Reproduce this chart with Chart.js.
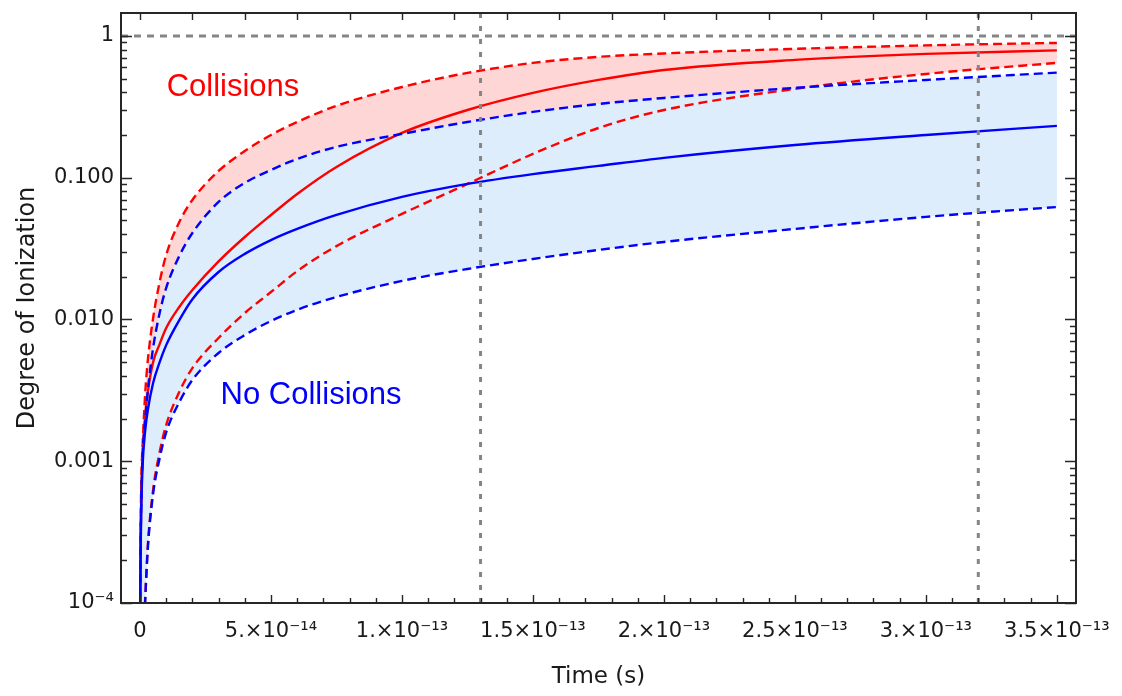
<!DOCTYPE html>
<html>
<head>
<meta charset="utf-8">
<script src="https://cdn.jsdelivr.net/npm/chart.js@4/dist/chart.umd.min.js"></script>
<style>
  html, body { margin: 0; padding: 0; background: #ffffff; }
  #wrap { width: 1122px; height: 696px; }
</style>
</head>
<body>
<div id="wrap"><canvas id="chart" width="1122" height="696"></canvas></div>
<script>
// Time samples (s)
const timeS = [5e-17, 1e-16, 3e-16, 5e-16, 1e-15, 2e-15, 3e-15, 5e-15, 7.5e-15, 1e-14, 1.5e-14, 2e-14,
               3e-14, 4e-14, 5e-14, 6e-14, 7.5e-14, 1e-13, 1.25e-13, 1.5e-13, 1.75e-13, 2e-13,
               2.5e-13, 3e-13, 3.5e-13];

// Degree of ionization with collisions: central estimate and upper / lower bounds
const collisionsMid  = [7.6e-5, 1.23e-4, 3.27e-4, 5.77e-4, 0.0011, 0.00211, 0.00308, 0.0050, 0.0067, 0.0087, 0.01224, 0.01612,
                        0.02566, 0.03815, 0.0545, 0.0767, 0.119, 0.2067, 0.300, 0.396, 0.489, 0.575,
                        0.677, 0.746, 0.790];
const collisionsHigh = [8.2e-5, 1.45e-4, 4.17e-4, 7.4e-4, 0.0013, 0.00303, 0.00517, 0.0102, 0.0184, 0.0285, 0.0487, 0.0696,
                        0.1115, 0.154, 0.200, 0.247, 0.321, 0.436, 0.548, 0.645, 0.711, 0.752,
                        0.810, 0.857, 0.892];
const collisionsLow  = [2e-6, 4e-6, 1e-5, 1.8e-5, 4e-5, 1.08e-4, 2.56e-4, 6.25e-4, 0.00116, 0.0018, 0.00308, 0.00454,
                        0.0074, 0.0111, 0.0156, 0.0219, 0.0329, 0.0555, 0.0903, 0.147, 0.224, 0.300,
                        0.423, 0.539, 0.645];

// Degree of ionization without collisions
const noCollMid  = [6.5e-5, 1.14e-4, 2.77e-4, 4.67e-4, 9.4e-4, 0.00166, 0.0023, 0.00356, 0.0050, 0.00659, 0.0099, 0.0139,
                    0.0216, 0.029, 0.0363, 0.0435, 0.0546, 0.0731, 0.0903, 0.106, 0.121, 0.138,
                    0.170, 0.200, 0.232];
const noCollHigh = [7e-5, 1.23e-4, 3.27e-4, 5.31e-4, 0.0011, 0.00195, 0.00318, 0.00628, 0.0111, 0.0167, 0.028, 0.0407,
                    0.0674, 0.0918, 0.1133, 0.1355, 0.1647, 0.2034, 0.247, 0.291, 0.331, 0.365,
                    0.4296, 0.489, 0.551];
const noCollLow  = [2e-6, 4e-6, 1e-5, 1.7e-5, 3.5e-5, 1.05e-4, 2.44e-4, 5.86e-4, 0.00105, 0.0016, 0.00261, 0.00374,
                    0.0058, 0.00776, 0.00975, 0.0117, 0.0144, 0.0187, 0.0227, 0.0267, 0.0309, 0.0352,
                    0.0435, 0.0529, 0.0621];

// Reference markers
const refTimes = [1.3e-13, 3.2e-13];
const refLevel = 1;

// Axis ticks
const xTickValues = [0, 5e-14, 1e-13, 1.5e-13, 2e-13, 2.5e-13, 3e-13, 3.5e-13];
const xTickLabels = ['0', '5.\u00d710\u207b\u00b9\u2074', '1.\u00d710\u207b\u00b9\u00b3', '1.5\u00d710\u207b\u00b9\u00b3',
                     '2.\u00d710\u207b\u00b9\u00b3', '2.5\u00d710\u207b\u00b9\u00b3', '3.\u00d710\u207b\u00b9\u00b3',
                     '3.5\u00d710\u207b\u00b9\u00b3'];
const yTickValues = [1e-4, 1e-3, 1e-2, 1e-1, 1];
const yTickLabels = ['10\u207b\u2074', '0.001', '0.010', '0.100', '1'];

const X_MIN = -7.25e-15, X_MAX = 3.573e-13;
const Y_MIN = 1e-4, Y_MAX = 1.45;

const RED = '#ff0000', BLUE = '#0000ff', GRAY = '#858585';
const PINK_FILL = '#ffd6d6', BLUE_FILL = '#ddedfc';
const AXIS_FONT = 'DejaVu Sans';

const pts = arr => timeS.map((t, i) => ({ x: t, y: arr[i] }));

function curve(label, arr, color, dashed, fill, bg) {
  return {
    label, data: pts(arr), borderColor: color, borderWidth: 2.4,
    borderDash: dashed ? [9, 5] : [], pointRadius: 0, cubicInterpolationMode: 'monotone',
    fill: fill || false, backgroundColor: bg || 'transparent'
  };
}
function refLine(label, data, dash) {
  return { label, data, borderColor: GRAY, borderWidth: 3, borderDash: dash, pointRadius: 0, fill: false, tension: 0 };
}

// Earlier entries are drawn on top
const datasets = [
  refLine('level', [{ x: X_MIN, y: refLevel }, { x: X_MAX, y: refLevel }], [7, 6]),
  refLine('t1', [{ x: refTimes[0], y: Y_MIN }, { x: refTimes[0], y: Y_MAX }], [5, 8]),
  refLine('t2', [{ x: refTimes[1], y: Y_MIN }, { x: refTimes[1], y: Y_MAX }], [5, 8]),
  curve('No Collisions (upper)', noCollHigh, BLUE, true, '+1', BLUE_FILL),
  curve('No Collisions (lower)', noCollLow, BLUE, true),
  curve('No Collisions', noCollMid, BLUE, false),
  curve('Collisions (upper)', collisionsHigh, RED, true, '+1', PINK_FILL),
  curve('Collisions (lower)', collisionsLow, RED, true),
  curve('Collisions', collisionsMid, RED, false)
];

// Frame with inward tick marks and the in-plot labels
const frameAndLabels = {
  id: 'frameAndLabels',
  afterDatasetsDraw(chart) {
    const { ctx, chartArea: a, scales: { x, y } } = chart;
    ctx.save();
    ctx.strokeStyle = '#262626';
    ctx.lineWidth = 1.4;
    ctx.beginPath();
    for (let k = 0; k <= 35; k++) {
      const px = Math.round(x.getPixelForValue(k * 1e-14)) + 0.5;
      const len = k % 5 === 0 ? 8 : 5;
      ctx.moveTo(px, a.bottom); ctx.lineTo(px, a.bottom - len);
    }
    for (let k = 0; k <= 17; k++) {
      const px = Math.round(x.getPixelForValue(k * 2e-14)) + 0.5;
      ctx.moveTo(px, a.top); ctx.lineTo(px, a.top + 7);
    }
    for (let d = -4; d <= 0; d++) {
      for (let m = 1; m <= 9; m++) {
        const v = m * Math.pow(10, d);
        if (v > Y_MAX) break;
        const py = Math.round(y.getPixelForValue(v)) + 0.5;
        const len = m === 1 ? 11 : 6;
        ctx.moveTo(a.left, py); ctx.lineTo(a.left + len, py);
        ctx.moveTo(a.right, py); ctx.lineTo(a.right - len, py);
      }
    }
    ctx.stroke();
    ctx.lineWidth = 2;
    ctx.strokeRect(a.left, a.top, a.right - a.left, a.bottom - a.top);

    ctx.font = '31px "Liberation Sans", Arial, sans-serif';
    ctx.textAlign = 'center';
    ctx.textBaseline = 'middle';
    ctx.fillStyle = RED;
    ctx.fillText('Collisions', x.getPixelForValue(0.355e-13), y.getPixelForValue(0.436));
    ctx.fillStyle = BLUE;
    ctx.fillText('No Collisions', x.getPixelForValue(0.653e-13), y.getPixelForValue(0.00291));
    ctx.restore();
  }
};

new Chart(document.getElementById('chart'), {
  type: 'line',
  data: { datasets },
  plugins: [frameAndLabels],
  options: {
    responsive: false,
    animation: false,
    devicePixelRatio: 1,
    layout: { padding: { left: 0, right: 46, top: 13, bottom: 0 } },
    plugins: {
      legend: { display: false },
      tooltip: { enabled: false },
      filler: { drawTime: 'beforeDatasetsDraw' }
    },
    scales: {
      x: {
        type: 'linear', min: X_MIN, max: X_MAX,
        grid: { display: false, drawTicks: false },
        border: { display: false },
        afterBuildTicks: s => { s.ticks = xTickValues.map(v => ({ value: v })); },
        afterFit: s => { s.height = 93; s.paddingLeft = 0; s.paddingRight = 0; },
        ticks: {
          autoSkip: false, maxRotation: 0, minRotation: 0, padding: 16, color: '#1a1a1a',
          font: { family: AXIS_FONT, size: 21 },
          callback: (v, i) => xTickLabels[i]
        },
        title: { display: true, text: 'Time (s)', color: '#1a1a1a',
                 font: { family: AXIS_FONT, size: 23 }, padding: { top: 0, bottom: 5 } }
      },
      y: {
        type: 'logarithmic', min: Y_MIN, max: Y_MAX,
        grid: { display: false, drawTicks: false },
        border: { display: false },
        afterBuildTicks: s => { s.ticks = yTickValues.map(v => ({ value: v, major: true })); },
        afterFit: s => { s.width = 121; s.paddingTop = 0; s.paddingBottom = 0; },
        ticks: {
          autoSkip: false, padding: 7, color: '#1a1a1a',
          font: { family: AXIS_FONT, size: 21 },
          callback: (v, i) => yTickLabels[i]
        },
        title: { display: true, text: 'Degree of Ionization', color: '#1a1a1a',
                 font: { family: AXIS_FONT, size: 24 }, padding: { top: 13, bottom: 0 } }
      }
    }
  }
});
</script>
</body>
</html>
